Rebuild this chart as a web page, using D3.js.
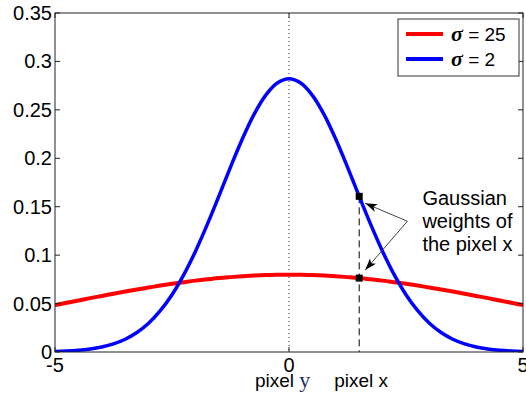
<!DOCTYPE html>
<html>
<head>
<meta charset="utf-8">
<script src="https://cdn.jsdelivr.net/npm/d3@7"></script>
<style>
  html, body { margin: 0; padding: 0; background: #fff; }
  svg { display: block; }
  text { font-family: Arial, "Liberation Sans", sans-serif; fill: #000; }
</style>
</head>
<body>
<svg id="chart" width="526" height="399"></svg>
<script>
// Sample positions along the x axis
const xs = [-5, -4.75, -4.5, -4.25, -4, -3.75, -3.5, -3.25, -3, -2.75, -2.5, -2.25, -2, -1.75, -1.5, -1.25, -1, -0.75, -0.5, -0.25,
            0, 0.25, 0.5, 0.75, 1, 1.25, 1.5, 1.75, 2, 2.25, 2.5, 2.75, 3, 3.25, 3.5, 3.75, 4, 4.25, 4.5, 4.75, 5];

// Gaussian weights, wide kernel (σ = 25)
const wideWeights = [0.0484, 0.0508, 0.0532, 0.0556, 0.0579, 0.0602, 0.0625, 0.0646, 0.0666, 0.0686, 0.0704, 0.0721, 0.0737, 0.0750, 0.0763, 0.0773, 0.0782, 0.0789, 0.0794, 0.0797,
                     0.0798, 0.0797, 0.0794, 0.0789, 0.0782, 0.0773, 0.0763, 0.0750, 0.0737, 0.0721, 0.0704, 0.0686, 0.0666, 0.0646, 0.0625, 0.0602, 0.0579, 0.0556, 0.0532, 0.0508, 0.0484];

// Gaussian weights, narrow kernel (σ = 2)
const narrowWeights = [0.0005, 0.0010, 0.0018, 0.0031, 0.0052, 0.0084, 0.0132, 0.0201, 0.0297, 0.0426, 0.0591, 0.0796, 0.1038, 0.1312, 0.1607, 0.1909, 0.2197, 0.2451, 0.2650, 0.2777,
                       0.2821, 0.2777, 0.2650, 0.2451, 0.2197, 0.1909, 0.1607, 0.1312, 0.1038, 0.0796, 0.0591, 0.0426, 0.0297, 0.0201, 0.0132, 0.0084, 0.0052, 0.0031, 0.0018, 0.0010, 0.0005];

const seriesNames = ["25", "2"];
const seriesColors = ["#ff0000", "#0000ff"];

const xTicks = [-5, 0, 5];
const yTicks = [0, 0.05, 0.1, 0.15, 0.2, 0.25, 0.3, 0.35];

// The pixel being weighted, and the centre pixel
const pixelX = 1.5;
const pixelXWeights = [0.0763, 0.1607];
const pixelY = 0;
const noteLines = ["Gaussian", "weights of", "the pixel x"];
const noteAnchor = [2.53, 0.135];

const W = 526, H = 399;
const margin = {top: 13, right: 3, bottom: 47, left: 55};
const iw = W - margin.left - margin.right;
const ih = H - margin.top - margin.bottom;

const svg = d3.select("#chart");
const defs = svg.append("defs");
defs.append("clipPath").attr("id", "plotclip")
  .append("rect").attr("width", iw).attr("height", ih);
defs.append("marker")
  .attr("id", "head").attr("viewBox", "0 0 12 8")
  .attr("refX", 12).attr("refY", 4)
  .attr("markerWidth", 12).attr("markerHeight", 8)
  .attr("markerUnits", "userSpaceOnUse")
  .attr("orient", "auto")
  .append("path").attr("d", "M0,0 L12,4 L0,8 L3,4 Z").attr("fill", "#000");

const g = svg.append("g").attr("transform", `translate(${margin.left},${margin.top})`);

const x = d3.scaleLinear().domain([-5, 5]).range([0, iw]);
const y = d3.scaleLinear().domain([0, 0.35]).range([ih, 0]);

// Vertical guide at the centre pixel
g.append("line")
  .attr("x1", x(pixelY)).attr("x2", x(pixelY))
  .attr("y1", 0).attr("y2", ih)
  .attr("stroke", "#333").attr("stroke-width", 1)
  .attr("stroke-dasharray", "1,3");

// Dashed guide at the weighted pixel
g.append("line")
  .attr("x1", x(pixelX)).attr("x2", x(pixelX))
  .attr("y1", y(d3.max(pixelXWeights))).attr("y2", ih)
  .attr("stroke", "#000").attr("stroke-width", 1)
  .attr("stroke-dasharray", "7,4");

// Curves
const line = d3.line()
  .x((d, i) => x(xs[i]))
  .y(d => y(d))
  .curve(d3.curveCatmullRom);

const plot = g.append("g").attr("clip-path", "url(#plotclip)");
plot.append("path").datum(wideWeights)
  .attr("d", line).attr("fill", "none")
  .attr("stroke", seriesColors[0]).attr("stroke-width", 4);
plot.append("path").datum(narrowWeights)
  .attr("d", line).attr("fill", "none")
  .attr("stroke", seriesColors[1]).attr("stroke-width", 3.5);

// Square markers at the weighted pixel
g.selectAll("rect.mk").data(pixelXWeights).join("rect")
  .attr("class", "mk")
  .attr("x", x(pixelX) - 3.5).attr("y", d => y(d) - 3.5)
  .attr("width", 7).attr("height", 7)
  .attr("fill", "#000");

// Arrows from the note to the markers
const ax = x(noteAnchor[0]), ay = y(noteAnchor[1]);
g.selectAll("line.arrow").data(pixelXWeights).join("line")
  .attr("class", "arrow")
  .attr("x1", ax).attr("y1", ay)
  .attr("x2", x(pixelX) + 6)
  .attr("y2", (d, i) => y(d) + (i === 0 ? -8 : 7))
  .attr("stroke", "#444").attr("stroke-width", 1)
  .attr("marker-end", "url(#head)");

// Note text
const note = g.append("text")
  .attr("x", ax + 15).attr("y", y(noteAnchor[1]) - 16)
  .style("font-size", "20px");
note.selectAll("tspan").data(noteLines).join("tspan")
  .attr("x", ax + 15).attr("dy", (d, i) => i === 0 ? 0 : 23)
  .text(d => d);

// Frame and inward ticks on all four sides
g.append("rect").attr("width", iw).attr("height", ih)
  .attr("fill", "none").attr("stroke", "#222").attr("stroke-width", 1);

const tl = 5;
g.selectAll("line.yt").data(yTicks).join("line").attr("class", "yt")
  .attr("x1", 0).attr("x2", tl).attr("y1", d => y(d)).attr("y2", d => y(d))
  .attr("stroke", "#222");
g.selectAll("line.yt2").data(yTicks).join("line").attr("class", "yt2")
  .attr("x1", iw).attr("x2", iw - tl).attr("y1", d => y(d)).attr("y2", d => y(d))
  .attr("stroke", "#222");
g.selectAll("line.xt").data(xTicks).join("line").attr("class", "xt")
  .attr("x1", d => x(d)).attr("x2", d => x(d)).attr("y1", ih).attr("y2", ih - tl)
  .attr("stroke", "#222");
g.selectAll("line.xt2").data(xTicks).join("line").attr("class", "xt2")
  .attr("x1", d => x(d)).attr("x2", d => x(d)).attr("y1", 0).attr("y2", tl)
  .attr("stroke", "#222");

// Tick labels
g.selectAll("text.yl").data(yTicks).join("text").attr("class", "yl")
  .attr("x", -3).attr("y", d => y(d) + 7)
  .attr("text-anchor", "end")
  .style("font-size", "20px")
  .text(d => d3.format("")(d));
g.selectAll("text.xl").data(xTicks).join("text").attr("class", "xl")
  .attr("x", d => x(d)).attr("y", ih + 20)
  .attr("text-anchor", "middle")
  .style("font-size", "20px")
  .text(d => d);

// Pixel captions under the axis
const capY = g.append("text")
  .attr("x", x(pixelY) - 34).attr("y", ih + 35)
  .style("font-size", "19px");
capY.append("tspan").text("pixel ");
capY.append("tspan")
  .style("font-family", "'Liberation Serif', 'DejaVu Serif', serif")
  .style("font-size", "22px")
  .style("fill", "#1c2a5c")
  .text("y");
g.append("text")
  .attr("x", x(pixelX) - 25).attr("y", ih + 35)
  .style("font-size", "19px")
  .text("pixel x");

// Legend
const lg = svg.append("g").attr("transform", "translate(398,19)");
lg.append("rect").attr("width", 121).attr("height", 57)
  .attr("fill", "#fff").attr("stroke", "#333").attr("stroke-width", 1);
const rows = lg.selectAll("g.row").data(seriesNames).join("g")
  .attr("class", "row")
  .attr("transform", (d, i) => `translate(0,${15 + i * 25})`);
rows.append("line")
  .attr("x1", 8).attr("x2", 45).attr("y1", 0).attr("y2", 0)
  .attr("stroke", (d, i) => seriesColors[i]).attr("stroke-width", 4);
const lt = rows.append("text").attr("x", 53).attr("y", 7).style("font-size", "19px");
lt.append("tspan")
  .style("font-family", "'Liberation Serif', 'DejaVu Serif', serif")
  .style("font-weight", "bold").style("font-style", "italic")
  .style("font-size", "22px")
  .text("σ");
lt.append("tspan").text(d => " = " + d);
</script>
</body>
</html>
